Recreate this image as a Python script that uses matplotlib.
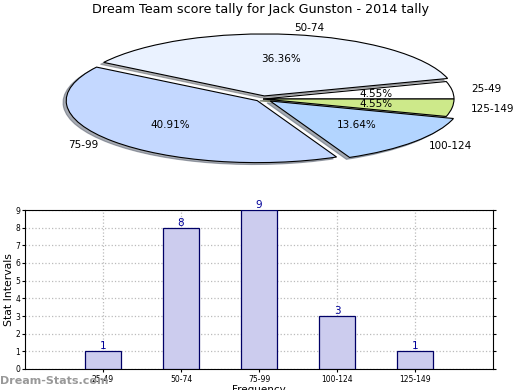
import matplotlib.pyplot as plt

# === Data ===
intervals = ["25-49", "50-74", "75-99", "100-124", "125-149"]
counts = [1, 8, 9, 3, 1]
pie_colors = ["#ffffff", "#eaf2ff", "#c4d8ff", "#b3d5ff", "#cde98a"]
explode = [0, 0.05, 0.04, 0.05, 0]

W, H = 520, 390
fig = plt.figure(figsize=(W / 100, H / 100), dpi=100)

fig.text(0.5, 1 - 10 / H, "Dream Team score tally for Jack Gunston - 2014 tally",
         ha="center", va="center", fontsize=9.2)

# === Squashed pie (ellipse) ===
cx, cy, rx, ry = 263, 99, 191, 62
span = 1.35
ax_pie = fig.add_axes([(cx - span * rx) / W, 1 - (cy + span * ry) / H,
                       2 * span * rx / W, 2 * span * ry / H])
wedges, texts, autotexts = ax_pie.pie(
    counts, labels=intervals, colors=pie_colors, explode=explode,
    startangle=0, counterclock=True, autopct="%.2f%%", pctdistance=0.6,
    labeldistance=1.1, shadow=dict(ox=-0.012, oy=-0.022, shade=0.6),
    wedgeprops=dict(edgecolor="black", linewidth=0.8),
    textprops=dict(fontsize=7.5))
ax_pie.set_aspect("auto")
ax_pie.set_xlim(-span, span)
ax_pie.set_ylim(-span, span)
ax_pie.axis("off")

# === Bar chart ===
ax = fig.add_axes([25 / W, (H - 369) / H, 468 / W, (369 - 210) / H])
x = list(range(len(intervals)))
bars = ax.bar(x, counts, width=0.46, color="#ccccee", edgecolor="#000066",
              linewidth=0.9, zorder=3)
for xi, c in zip(x, counts):
    ax.text(xi, c, str(c), ha="center", va="bottom", color="#000099",
            fontsize=7.5, zorder=4)
ax.set_xlim(-1, 5)
ax.set_ylim(0, 9)
ax.set_xticks(x)
ax.set_xticklabels(intervals, fontsize=5.5)
ax.set_yticks(range(10))
ax.tick_params(axis="y", labelsize=5.5, length=2, pad=1.5, right=True)
ax.tick_params(axis="x", length=2, pad=2)
ax.grid(True, linestyle=":", color="#bbbbbb", linewidth=0.9, zorder=0)
ax.set_ylabel("Stat Intervals", fontsize=7.8, labelpad=1)
ax.set_xlabel("Frequency", fontsize=7.5, labelpad=1)

fig.text(0, 1 - 381 / H, "Dream-Stats.com", ha="left", va="center",
         color="#999999", fontsize=8, fontweight="bold")

fig.savefig("out.png", dpi=100)
